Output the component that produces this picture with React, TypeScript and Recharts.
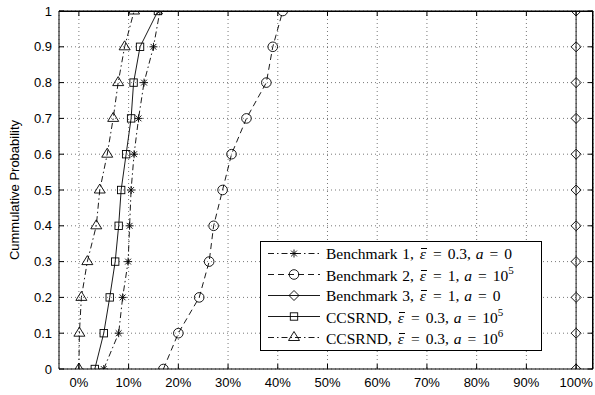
import { CartesianGrid, Legend, Line, LineChart, XAxis, YAxis } from 'recharts'

// cumulative probability levels (y) shared by every curve
const probLevels = [0, 0.1, 0.2, 0.3, 0.4, 0.5, 0.6, 0.7, 0.8, 0.9, 1]

// x values in percent, one per probability level
const benchmark1 = [5.0, 8.0, 8.8, 9.9, 10.2, 10.5, 11.1, 12.0, 13.1, 15.0, 16.3]
const benchmark2 = [17.0, 20.0, 24.2, 26.2, 27.1, 28.9, 30.7, 33.7, 37.7, 39.0, 41.0]
const benchmark3 = [100, 100, 100, 100, 100, 100, 100, 100, 100, 100, 100]
const ccsrnd5 = [3.2, 5.0, 6.2, 7.3, 8.0, 8.5, 9.5, 10.5, 11.0, 12.3, 15.9]
const ccsrnd6 = [0, 0.1, 0.5, 1.7, 3.5, 4.2, 5.7, 6.9, 7.9, 9.2, 11.1]

const xTicks = [0, 10, 20, 30, 40, 50, 60, 70, 80, 90, 100]
const yTicks = [0, 0.1, 0.2, 0.3, 0.4, 0.5, 0.6, 0.7, 0.8, 0.9, 1]

const legendNames = ['Benchmark 1', 'Benchmark 2', 'Benchmark 3', 'CCSRND', 'CCSRND']
const legendEps = ['0.3', '1', '1', '0.3', '0.3']
const legendA = ['0', '10', '0', '10', '10']
const legendAExp = ['', '5', '', '5', '6']

type Shape = 'star' | 'circle' | 'diamond' | 'square' | 'triangle'

const toPoints = (values: number[]) => values.map((x, i) => ({ x, y: probLevels[i] }))

// benchmark 3 sits on the top/right axes (same scales) so those axes get drawn too
const series: { key: string, values: number[], dash?: string, marker: Shape, frame?: boolean }[] = [
    { key: 'b1', values: benchmark1, dash: '6 3 1.5 3', marker: 'star' },
    { key: 'b2', values: benchmark2, dash: '6 4', marker: 'circle' },
    { key: 'b3', values: benchmark3, marker: 'diamond', frame: true },
    { key: 'c5', values: ccsrnd5, marker: 'square' },
    { key: 'c6', values: ccsrnd6, dash: '6 3 1.5 3', marker: 'triangle' },
]

const INK = '#000'
const SANS = '"Liberation Sans", Arial, sans-serif'
const X_DOMAIN = [-4, 103.4]
const Y_DOMAIN = [0, 1]

// chart geometry
const W = 595
const H = 395
const MARGIN = { top: 10, right: 1, bottom: 0, left: 0 }
const Y_AXIS_W = 59
const X_AXIS_H = 26
const PLOT = {
    left: MARGIN.left + Y_AXIS_W,
    top: MARGIN.top + 1,
    width: W - MARGIN.left - MARGIN.right - Y_AXIS_W - 1,
    height: H - MARGIN.top - MARGIN.bottom - X_AXIS_H - 1,
}

const Marker = ({ shape, cx, cy }: { shape: Shape, cx: number, cy: number }) => {
    const common = { fill: 'none', stroke: INK, strokeWidth: 0.9 }
    if (shape === 'star') {
        const r = 4, d = 2.9
        return (
            <g {...common}>
                <line x1={cx - r} y1={cy} x2={cx + r} y2={cy} />
                <line x1={cx} y1={cy - r} x2={cx} y2={cy + r} />
                <line x1={cx - d} y1={cy - d} x2={cx + d} y2={cy + d} />
                <line x1={cx - d} y1={cy + d} x2={cx + d} y2={cy - d} />
            </g>
        )
    }
    if (shape === 'circle') return <circle cx={cx} cy={cy} r={4.8} {...common} />
    if (shape === 'diamond') {
        return <polygon points={`${cx},${cy - 5} ${cx + 5},${cy} ${cx},${cy + 5} ${cx - 5},${cy}`} {...common} />
    }
    if (shape === 'square') return <rect x={cx - 3.7} y={cy - 3.7} width={7.4} height={7.4} {...common} />
    return <polygon points={`${cx},${cy - 6} ${cx + 5.5},${cy + 3} ${cx - 5.5},${cy + 3}`} {...common} />
}

// epsilon with a bar over it
const EpsBar = () => (
    <i style={{ position: 'relative', display: 'inline-block', padding: '0 1px' }}>
        {'\u03b5'}
        <span style={{ position: 'absolute', left: 2, right: 0, top: 2, borderTop: `1px solid ${INK}` }} />
    </i>
)

const Eq = () => <span style={{ margin: '0 6px' }}>=</span>

const LegendBox = () => (
    <div style={{
        border: `1.5px solid ${INK}`,
        background: '#fff',
        width: 280,
        paddingTop: 1,
        paddingBottom: 2,
        fontFamily: '"Liberation Serif", "Times New Roman", serif',
        fontSize: 15.5,
        color: INK,
        lineHeight: 1,
    }}>
        {series.map((s, i) => (
            <div key={s.key} style={{ display: 'flex', alignItems: 'center', height: 21 }}>
                <svg width={65} height={21} style={{ flex: 'none' }}>
                    <line x1={7} x2={59} y1={10.5} y2={10.5} stroke={INK} strokeWidth={0.9} strokeDasharray={s.dash} />
                    <Marker shape={s.marker} cx={33} cy={10.5} />
                </svg>
                <span style={{ whiteSpace: 'nowrap', wordSpacing: 1 }}>
                    {legendNames[i]}, <EpsBar /><Eq />{legendEps[i]}, <i>a</i><Eq />{legendA[i]}
                    {legendAExp[i] && <sup style={{ fontSize: 11, verticalAlign: 7 }}>{legendAExp[i]}</sup>}
                </span>
            </div>
        ))}
    </div>
)

export default function App() {
    return (
        <div style={{ position: 'absolute', left: 0, top: 0, width: W, height: H, background: '#fff' }}>
            <LineChart width={W} height={H} margin={MARGIN}>
                <CartesianGrid stroke="#555" strokeWidth={0.8} strokeDasharray="1 3" />
                <XAxis
                    dataKey="x"
                    type="number"
                    domain={X_DOMAIN}
                    allowDataOverflow
                    ticks={xTicks}
                    tickFormatter={(v: number) => `${v}%`}
                    height={X_AXIS_H}
                    tickSize={-5}
                    tickMargin={14}
                    stroke={INK}
                    tick={{ fill: INK, fontSize: 13, fontFamily: SANS }}
                />
                <XAxis
                    xAxisId="top"
                    orientation="top"
                    dataKey="x"
                    type="number"
                    domain={X_DOMAIN}
                    allowDataOverflow
                    ticks={xTicks}
                    tickFormatter={() => ''}
                    height={1}
                    tickSize={-5}
                    stroke={INK}
                />
                <YAxis
                    type="number"
                    domain={Y_DOMAIN}
                    allowDataOverflow
                    ticks={yTicks}
                    width={Y_AXIS_W}
                    tickSize={-5}
                    tickMargin={12}
                    stroke={INK}
                    tick={{ fill: INK, fontSize: 13, fontFamily: SANS }}
                    label={{
                        content: ({ viewBox }: any) => {
                            const cy = viewBox.y + viewBox.height / 2
                            return (
                                <text
                                    x={14.5}
                                    y={cy}
                                    dy="0.35em"
                                    transform={`rotate(-90, 14.5, ${cy})`}
                                    textAnchor="middle"
                                    fontSize={13}
                                    fontFamily={SANS}
                                    fill={INK}
                                >
                                    Cummulative Probability
                                </text>
                            )
                        },
                    }}
                />
                <YAxis
                    yAxisId="right"
                    orientation="right"
                    type="number"
                    domain={Y_DOMAIN}
                    allowDataOverflow
                    ticks={yTicks}
                    tickFormatter={() => ''}
                    width={1}
                    tickSize={-5}
                    stroke={INK}
                />
                {series.map((s) => (
                    <Line
                        key={s.key}
                        xAxisId={s.frame ? 'top' : 0}
                        yAxisId={s.frame ? 'right' : 0}
                        data={toPoints(s.values)}
                        dataKey="y"
                        type="linear"
                        stroke={INK}
                        strokeWidth={0.9}
                        strokeDasharray={s.dash}
                        isAnimationActive={false}
                        activeDot={false}
                        legendType="none"
                        dot={(p: any) => <Marker key={`${s.key}-${p.index}`} shape={s.marker} cx={p.cx} cy={p.cy} />}
                    />
                ))}
                <Legend
                    layout="vertical"
                    align="center"
                    verticalAlign="middle"
                    content={<LegendBox />}
                    wrapperStyle={{ position: 'absolute', left: 260, top: 241, width: 283, height: 'auto' }}
                />
            </LineChart>
            {/* top and right sides of the axes box */}
            <div style={{
                position: 'absolute',
                left: PLOT.left,
                top: PLOT.top,
                width: PLOT.width,
                height: PLOT.height,
                borderTop: `1px solid ${INK}`,
                borderRight: `1px solid ${INK}`,
                boxSizing: 'border-box',
                pointerEvents: 'none',
            }} />
        </div>
    )
}
